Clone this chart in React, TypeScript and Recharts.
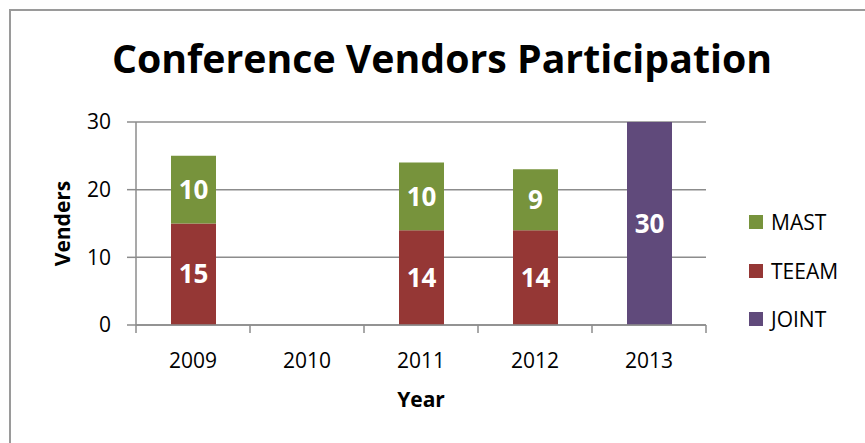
import { BarChart, Bar, XAxis, YAxis, CartesianGrid, LabelList } from "recharts";

const years = ["2009", "2010", "2011", "2012", "2013"];
const teeam = [15, 0, 14, 14, null];
const mast = [10, 0, 10, 9, null];
const joint = [null, null, null, null, 30];
const yTicks = [0, 10, 20, 30];

const series = [
  { key: "MAST", color: "#77933C" },
  { key: "TEEAM", color: "#953735" },
  { key: "JOINT", color: "#604A7B" },
];

const data = years.map((year, i) => ({
  year,
  TEEAM: teeam[i],
  MAST: mast[i],
  JOINT: joint[i],
}));

const W = 865;
const H = 443;
const YAXIS_W = 136;
const XAXIS_H = 118;
const MARGIN = { top: 122, right: 159, bottom: 0, left: 0 };
const PLOT_BOTTOM = H - XAXIS_H;
const BAND = (W - MARGIN.right - YAXIS_W) / years.length;
const GRID = "#8c8c8c";
const FONT = "'Open Sans', sans-serif";

const YearTick = (props: any) => {
  const { x, payload, index } = props;
  return (
    <g>
      <line x1={x - BAND / 2} x2={x - BAND / 2} y1={PLOT_BOTTOM} y2={PLOT_BOTTOM + 8} stroke={GRID} strokeWidth={1.5} />
      {index === years.length - 1 && (
        <line x1={x + BAND / 2} x2={x + BAND / 2} y1={PLOT_BOTTOM} y2={PLOT_BOTTOM + 8} stroke={GRID} strokeWidth={1.5} />
      )}
      <text x={x} y={PLOT_BOTTOM + 43} textAnchor="middle" fontSize={21} fontFamily={FONT} fill="#000">
        {payload.value}
      </text>
    </g>
  );
};

const fmt = (v: any) => (v === null || v === undefined ? "" : v);

export default function App() {
  return (
    <div style={{ position: "absolute", left: 0, top: 0, width: W, height: H, background: "#fff", overflow: "hidden" }}>
      <div style={{ position: "absolute", left: 9, top: 9, width: W, height: H, borderLeft: "2px solid #9a9a9a", borderTop: "2px solid #9a9a9a" }} />
      <BarChart width={W} height={H} data={data} margin={MARGIN} barSize={45}>
        <CartesianGrid vertical={false} stroke={GRID} strokeWidth={1.5} />
        <XAxis
          dataKey="year"
          height={XAXIS_H}
          axisLine={{ stroke: GRID, strokeWidth: 1.5 }}
          tickLine={false}
          tick={<YearTick />}
          interval={0}
        />
        <YAxis
          width={YAXIS_W}
          domain={[0, 30]}
          ticks={yTicks}
          axisLine={{ stroke: GRID, strokeWidth: 1.5 }}
          tickLine={{ stroke: GRID, strokeWidth: 1.5 }}
          tickSize={9}
          tickMargin={16}
          tick={{ fontSize: 21, fontFamily: FONT, fill: "#000" }}
        />
        <Bar dataKey="TEEAM" stackId="a" fill="#953735" isAnimationActive={false}>
          <LabelList dataKey="TEEAM" position="center" formatter={fmt} fill="#fff" fontSize={26} fontWeight="bold" fontFamily={FONT} />
        </Bar>
        <Bar dataKey="MAST" stackId="a" fill="#77933C" isAnimationActive={false}>
          <LabelList dataKey="MAST" position="center" formatter={fmt} fill="#fff" fontSize={26} fontWeight="bold" fontFamily={FONT} />
        </Bar>
        <Bar dataKey="JOINT" stackId="a" fill="#604A7B" isAnimationActive={false}>
          <LabelList dataKey="JOINT" position="center" formatter={fmt} fill="#fff" fontSize={26} fontWeight="bold" fontFamily={FONT} />
        </Bar>
      </BarChart>
      <div style={{ position: "absolute", left: 749, top: 215, fontFamily: FONT, fontSize: 21, color: "#000" }}>
        {series.map((s, i) => (
          <div key={s.key} style={{ position: "absolute", left: 0, top: i * 48.5, display: "flex", alignItems: "center", height: 14, whiteSpace: "nowrap" }}>
            <span style={{ width: 14, height: 14, background: s.color, display: "inline-block", marginRight: 8 }} />
            <span style={{ lineHeight: "14px" }}>{s.key}</span>
          </div>
        ))}
      </div>
      <svg width={W} height={H} style={{ position: "absolute", left: 0, top: 0, pointerEvents: "none" }}>
        <text x={112} y={73} textLength={660} lengthAdjust="spacingAndGlyphs" fontSize={40} fontWeight="bold" fontFamily={FONT} fill="#000">
          Conference Vendors Participation
        </text>
        <text transform={`translate(70, ${(MARGIN.top + PLOT_BOTTOM) / 2}) rotate(-90)`} textAnchor="middle" fontSize={21} fontWeight="bold" fontFamily={FONT} fill="#000">
          Venders
        </text>
        <text x={YAXIS_W + (W - MARGIN.right - YAXIS_W) / 2} y={407} textAnchor="middle" fontSize={21} fontWeight="bold" fontFamily={FONT} fill="#000">
          Year
        </text>
      </svg>
    </div>
  );
}
